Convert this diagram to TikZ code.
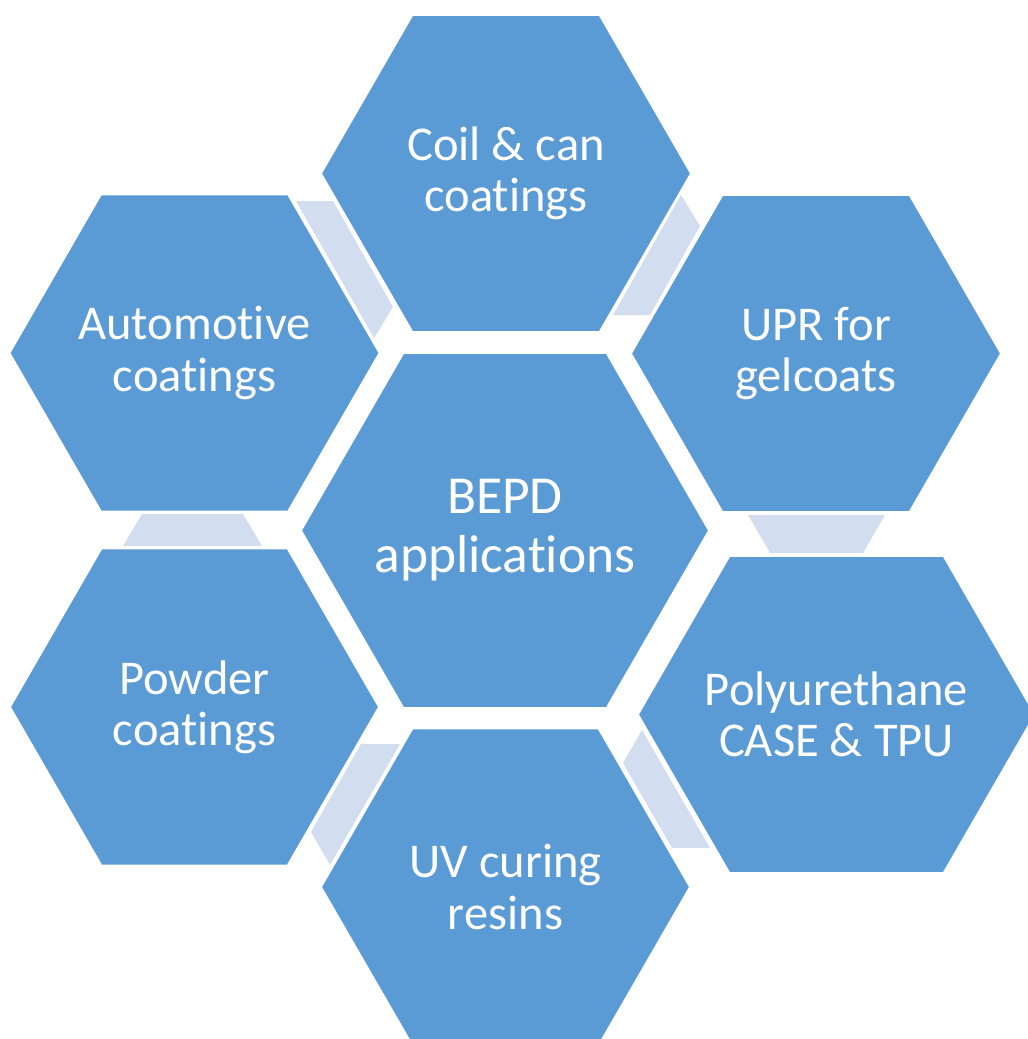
\documentclass[tikz,border=0pt]{standalone}
\usepackage{fontspec}
\setmainfont{Carlito}[Ligatures=NoCommon]
\usetikzlibrary{calc}

\definecolor{hexblue}{HTML}{5B9BD5}
\definecolor{linkblue}{HTML}{D2DEEF}

% hexagon cell: name, x, y, half width, half height, text
\newcommand{\hexcell}[7][]{%
  \filldraw[hexa] (#3-#5,#4) -- (#3-#5+0.577*#6,#4-#6) -- (#3+#5-0.577*#6,#4-#6)
    -- (#3+#5,#4) -- (#3+#5-0.577*#6,#4+#6) -- (#3-#5+0.577*#6,#4+#6) -- cycle;
  \node[lab, #1] (#2) at (#3,#4) {#7};}

\begin{document}
\begin{tikzpicture}[x=0.01cm, y=-0.01cm,
    hexa/.style={fill=hexblue, draw=white, line width=0.5pt},
    link/.style={fill=linkblue},
    lab/.style={text=white, align=center, inner sep=0pt,
      font=\fontsize{13.8}{14.6}\selectfont},
    big/.style={font=\fontsize{15.2}{16.8}\selectfont}]
  \useasboundingbox (0,0) rectangle (1028,1039);
  % ---- links between the outer cells
  \fill[link] (296,201) -- (333,201) -- (393,307) -- (374,338) -- cycle;
  \fill[link] (681,195) -- (700,226) -- (650,315) -- (613,315) -- cycle;
  \fill[link] (748,515) -- (885,515) -- (863,553) -- (770,553) -- cycle;
  \fill[link] (642,730) -- (710,848) -- (672,848) -- (623,763) -- cycle;
  \fill[link] (361,744) -- (400,744) -- (330,865) -- (311,832) -- cycle;
  \fill[link] (142,514) -- (243,514) -- (262,546) -- (123,546) -- cycle;
  % ---- outer cells
  \hexcell{coil}{506}{173.5}{185}{158.5}{Coil \& can\\coatings}
  \hexcell{upr}{816}{353.5}{185}{158.5}{UPR for\\gelcoats}
  \hexcell{pu}{836.5}{714.5}{198.5}{158.5}{Polyurethane\\CASE \& TPU}
  \hexcell{uv}{505.5}{887}{184.5}{158.5}{UV curing\\resins}
  \hexcell{powder}{194.5}{707}{184.5}{158.5}{Powder\\coatings}
  \hexcell{auto}{194.5}{353}{185}{158.5}{Automotive\\coatings}
  % ---- centre cell
  \hexcell[big]{bepd}{505}{530.5}{204}{177.5}{BEPD\\applications}
\end{tikzpicture}
\end{document}
